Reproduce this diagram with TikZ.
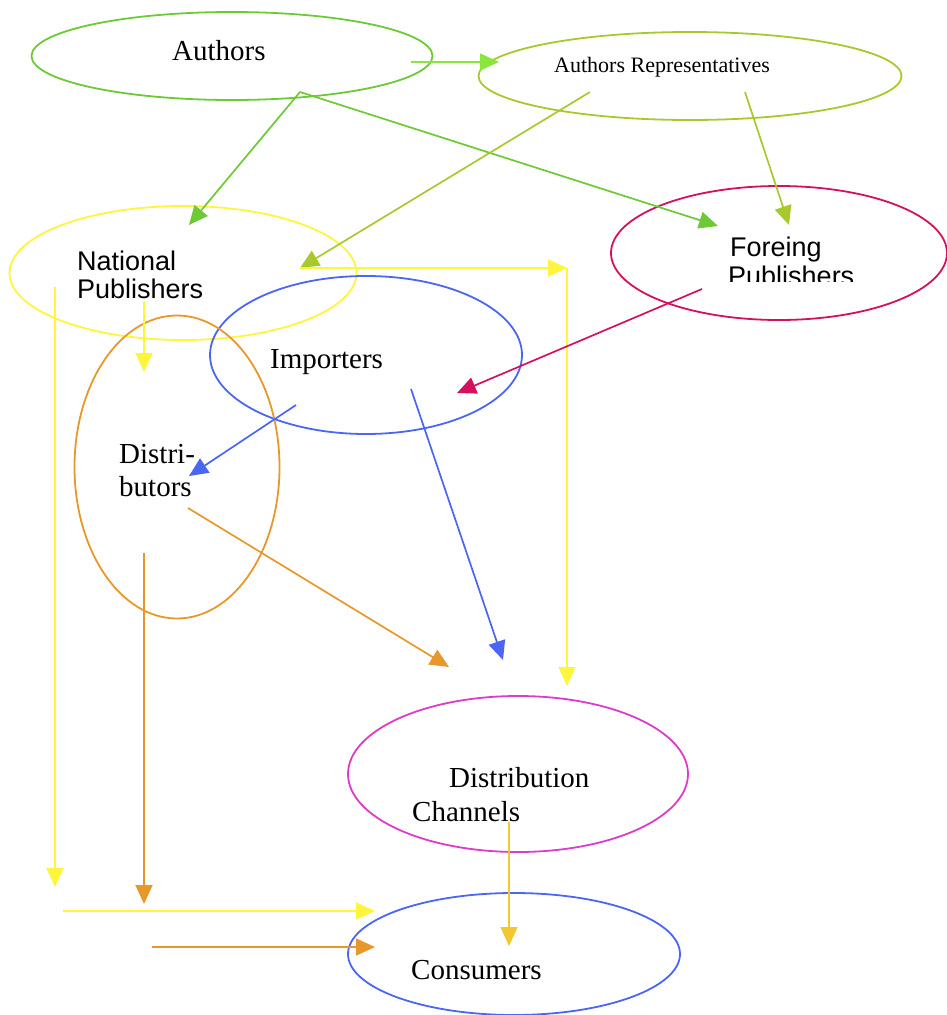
\documentclass[tikz,border=0pt]{standalone}
\usepackage{fontspec}
\setmainfont{Liberation Serif}
\newfontfamily\helv{Liberation Sans}
\usepackage{xcolor}
\usepackage{tikz}
\usetikzlibrary{arrows.meta,shapes.geometric}
\definecolor{authgreen}{HTML}{6DC935}
\definecolor{limegreen}{HTML}{8AE63A}
\definecolor{repgreen}{HTML}{A8C92E}
\definecolor{natyellow}{HTML}{FFF53C}
\definecolor{forcrimson}{HTML}{D4105F}
\definecolor{impblue}{HTML}{4A66F2}
\definecolor{distorange}{HTML}{E8982A}
\definecolor{chanmagenta}{HTML}{DC3CC8}
\definecolor{changold}{HTML}{F2C830}

\begin{document}
\begin{tikzpicture}[x=1pt,y=-1pt,>={Triangle[length=19pt,width=17pt]},
    oval/.style={ellipse,draw,line width=1.8pt,inner sep=0pt},
    flow/.style={->,line width=1.7pt},
    lbl/.style={anchor=base west,inner sep=0pt,font=\fontsize{29}{34}\selectfont},
    slbl/.style={anchor=base west,inner sep=0pt,font=\helv\fontsize{27}{28}\selectfont}]
        \useasboundingbox (0,0) rectangle (947,1015);
        % ovals
        \node[oval,draw=authgreen,minimum width=401,minimum height=88] (authors) at (232,56) {};
        \node[oval,draw=repgreen,minimum width=423,minimum height=88] (rep) at (690,76) {};
        \node[oval,draw=natyellow,minimum width=347,minimum height=134] (natpub) at (183,273) {};
        \node[oval,draw=forcrimson,minimum width=336,minimum height=134] (forpub) at (779,253) {};
        \node[oval,draw=impblue,minimum width=312,minimum height=158] (imp) at (366,355) {};
        \node[oval,draw=distorange,minimum width=205,minimum height=303] (distr) at (177,467) {};
        \node[oval,draw=chanmagenta,minimum width=340,minimum height=156] (chan) at (518,774) {};
        \node[oval,draw=impblue,minimum width=332,minimum height=122] (cons) at (514,954) {};
        % labels
        \node[lbl] (authors-l) at (172,60) {Authors};
        \node[lbl,font=\fontsize{22}{26}\selectfont] (rep-l) at (554,72) {Authors Representatives};
        \node[slbl] (natpub-l1) at (77,270) {National};
        \node[slbl] (natpub-l2) at (77,298) {Publishers};
        \node[slbl] (forpub-l1) at (730,256) {Foreing};
        \begin{scope}
          \clip (700,262) rectangle (900,281);
          \node[slbl] (forpub-l2) at (728,285) {Publishers};
        \end{scope}
        \node[lbl] (imp-l) at (270,368) {Importers};
        \node[lbl] (distr-l1) at (119,463) {Distri-};
        \node[lbl] (distr-l2) at (119,496) {butors};
        \node[lbl] (chan-l1) at (449,787) {Distribution};
        \node[lbl] (chan-l2) at (412,821) {Channels};
        \node[lbl] (cons-l) at (411,979) {Consumers};
        % connector ends
        \coordinate (authors-out) at (300,92);
        \coordinate (authors-east) at (411,62);
        \coordinate (rep-in) at (499,62);
        \coordinate (rep-out1) at (590,92);
        \coordinate (rep-out2) at (745,92);
        \coordinate (natpub-in) at (189,225);
        \coordinate (natpub-hub) at (300,268);
        \coordinate (natpub-turn) at (567,268);
        \coordinate (natpub-out1) at (144,302);
        \coordinate (natpub-out2) at (55,287);
        \coordinate (forpub-in1) at (718,226);
        \coordinate (forpub-in2) at (789,225);
        \coordinate (forpub-out) at (702,289);
        \coordinate (imp-in) at (457,393);
        \coordinate (imp-out1) at (296,405);
        \coordinate (imp-out2) at (411,389);
        \coordinate (distr-in1) at (144,372);
        \coordinate (distr-in2) at (189,476);
        \coordinate (distr-out1) at (188,508);
        \coordinate (distr-out2) at (144,553);
        \coordinate (chan-in1) at (567,686);
        \coordinate (chan-in2) at (503,660);
        \coordinate (chan-in3) at (449,667);
        \coordinate (chan-out) at (509,822);
        \coordinate (cons-drop1) at (55,887);
        \coordinate (cons-drop2) at (144,904);
        \coordinate (cons-from1) at (63,911);
        \coordinate (cons-from2) at (152,947);
        \coordinate (cons-in1) at (375,911);
        \coordinate (cons-in2) at (375,947);
        \coordinate (cons-in3) at (509,946);
        % flows
        \draw[flow,limegreen] (authors-east) -- (rep-in);
        \draw[flow,authgreen] (authors-out) -- (natpub-in);
        \draw[flow,authgreen] (authors-out) -- (forpub-in1);
        \draw[flow,repgreen] (rep-out1) -- (natpub-hub);
        \draw[flow,repgreen] (rep-out2) -- (forpub-in2);
        \draw[flow,natyellow] (natpub-hub) -- (natpub-turn);
        \draw[flow,natyellow] (natpub-turn) -- (chan-in1);
        \draw[flow,natyellow] (natpub-out1) -- (distr-in1);
        \draw[flow,natyellow] (natpub-out2) -- (cons-drop1);
        \draw[flow,natyellow] (cons-from1) -- (cons-in1);
        \draw[flow,forcrimson] (forpub-out) -- (imp-in);
        \draw[flow,impblue] (imp-out1) -- (distr-in2);
        \draw[flow,impblue] (imp-out2) -- (chan-in2);
        \draw[flow,distorange] (distr-out1) -- (chan-in3);
        \draw[flow,distorange] (distr-out2) -- (cons-drop2);
        \draw[flow,distorange] (cons-from2) -- (cons-in2);
        \draw[flow,changold] (chan-out) -- (cons-in3);
\end{tikzpicture}
\end{document}
